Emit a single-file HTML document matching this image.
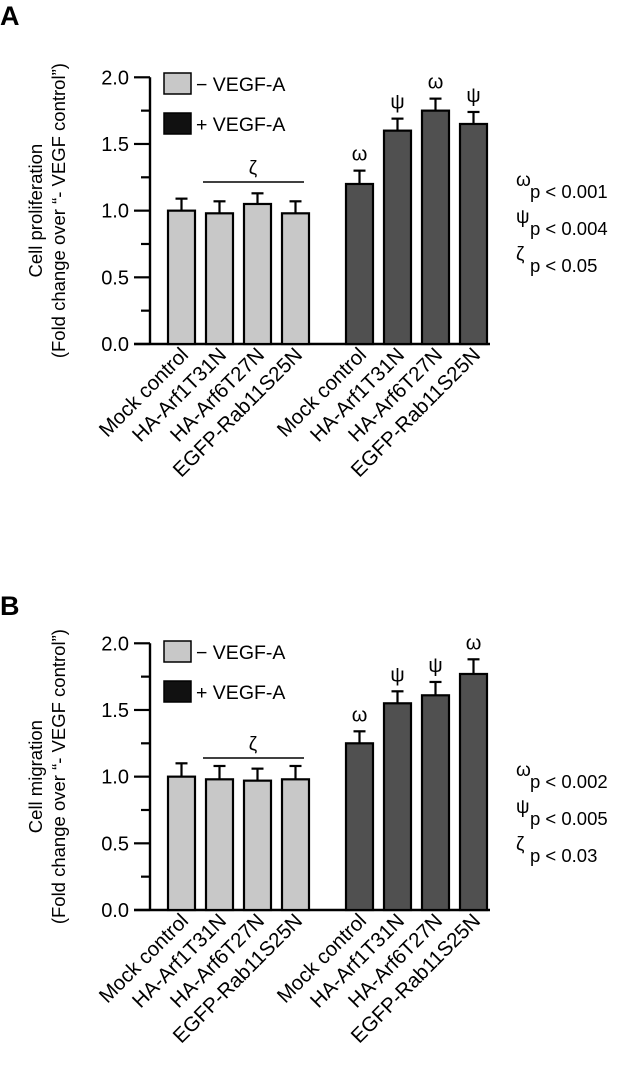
<!DOCTYPE html>
<html><head><meta charset="utf-8"><style>
html,body{margin:0;padding:0;background:#fff;}
svg{display:block;font-family:"Liberation Sans","DejaVu Sans",sans-serif;}
</style></head><body>
<svg id="fig" width="621" height="1066" viewBox="0 0 621 1066"></svg>
<script>
const categories = ["Mock control","HA-Arf1T31N","HA-Arf6T27N","EGFP-Rab11S25N"];
const yTicks = [0.0,0.5,1.0,1.5,2.0];
const yTickLabels = ["0.0","0.5","1.0","1.5","2.0"];
const aMinus = [1.0,0.98,1.05,0.98];
const aMinusErr = [0.09,0.09,0.08,0.09];
const aPlus = [1.2,1.6,1.75,1.65];
const aPlusErr = [0.1,0.09,0.09,0.09];
const aPlusSym = ["ω","ψ","ω","ψ"];
const bMinus = [1.0,0.98,0.97,0.98];
const bMinusErr = [0.1,0.1,0.09,0.1];
const bPlus = [1.25,1.55,1.61,1.77];
const bPlusErr = [0.09,0.09,0.1,0.11];
const bPlusSym = ["ω","ψ","ψ","ω"];
const aPvals = ["p < 0.001","p < 0.004","p < 0.05"];
const bPvals = ["p < 0.002","p < 0.005","p < 0.03"];
const pSyms = ["ω","ψ","ζ"];

const NS="http://www.w3.org/2000/svg";
const svg=document.getElementById('fig');
function mk(tag,attrs,parent,text){const e=document.createElementNS(NS,tag);for(const k in attrs)e.setAttribute(k,attrs[k]);if(text!==undefined)e.textContent=text;(parent||svg).appendChild(e);return e;}

function panel(id,letter,top,y0,minus,minusErr,plus,plusErr,plusSym,pvals,ylab,zetaY,legY){
  const g=mk('g',{});
  
  
  const yTop=y0-266.7;
  const ys=v=>y0-(v/2)*266.7;
  const xs=i=>168+i*38+(i>=4?26:0);
  const bw=27;
  const L=mk('text',{x:0,y:top+25,'font-size':27,'font-weight':'bold'},g,letter);
  
  
  const ya=mk('line',{x1:150,y1:yTop,x2:150,y2:y0,stroke:'#000','stroke-width':2.4},g);
  
  
  const xa=mk('line',{x1:134,y1:y0,x2:490,y2:y0,stroke:'#000','stroke-width':2.4},g);
  
  
  for(let v=0;v<=2.0001;v+=0.25){
    const t=mk('line',{x1:(Math.round(v*4)%2===0)?134:141,y1:ys(v),x2:150,y2:ys(v),stroke:'#000','stroke-width':2.2},g);
    
    
  }
  yTicks.forEach((v,i)=>{
    const t=mk('text',{x:129,y:ys(v)+7,'font-size':20,'text-anchor':'end'},g,yTickLabels[i]);
    
    
  });
  const yl=mk('text',{transform:`translate(50,${(y0+yTop)/2}) rotate(-90)`,'font-size':18.5,'text-anchor':'middle'},g);
  
  
  mk('tspan',{x:0,y:-8},yl,ylab);
  mk('tspan',{x:0,y:15},yl,'(Fold change over \u201c- VEGF control\u201d)');
  const vals=minus.concat(plus), errs=minusErr.concat(plusErr);
  vals.forEach((v,i)=>{
    const x=xs(i), cx=x+bw/2;
    const e=mk('line',{x1:cx,y1:ys(v),x2:cx,y2:ys(v+errs[i]),stroke:'#000','stroke-width':2.2},g);
    
    
    const c=mk('line',{x1:cx-6,y1:ys(v+errs[i]),x2:cx+6,y2:ys(v+errs[i]),stroke:'#000','stroke-width':2.2},g);
    
    
    const r=mk('rect',{x:x,y:ys(v),width:bw,height:y0-ys(v),fill:i<4?'#c8c8c8':'#505050',stroke:'#000','stroke-width':2.2},g);
    
    
    if(i>=4){
      const s=mk('text',{x:cx,y:ys(v+errs[i])-10,'font-size':20,'text-anchor':'middle'},g,plusSym[i-4]);
      
      
    }
    const lb=mk('text',{transform:`translate(${cx+8},${y0+12}) rotate(-45)`,'font-size':20.5,'text-anchor':'end'},g,categories[i%4]);
    
    
  });
  const z=mk('line',{x1:203,y1:zetaY,x2:304,y2:zetaY,stroke:'#000','stroke-width':1.6},g);
  
  
  const zt=mk('text',{x:253,y:zetaY-8,'font-size':19,'text-anchor':'middle'},g,'ζ');
  
  
  [['#c8c8c8','\u2212 VEGF-A'],['#111','+ VEGF-A']].forEach((d,k)=>{
    const r=mk('rect',{x:164,y:legY+k*40,width:27,height:21,fill:d[0],stroke:'#000','stroke-width':1.5},g);
    
    
    const t=mk('text',{x:196,y:legY+k*40+18,'font-size':19.5},g,d[1]);
    
    
  });
  pvals.forEach((p,k)=>{
    const by=top+198+k*37;
    const s=mk('text',{x:516,y:by-12,'font-size':19},g,pSyms[k]);
    
    
    const t=mk('text',{x:530,y:by,'font-size':18.5},g,p);
    
    
  });
}
panel('a','A',0,344,aMinus,aMinusErr,aPlus,aPlusErr,aPlusSym,aPvals,'Cell proliferation',182,73);
panel('b','B',590,910,bMinus,bMinusErr,bPlus,bPlusErr,bPlusSym,bPvals,'Cell migration',758,641);
</script>
</body></html>
